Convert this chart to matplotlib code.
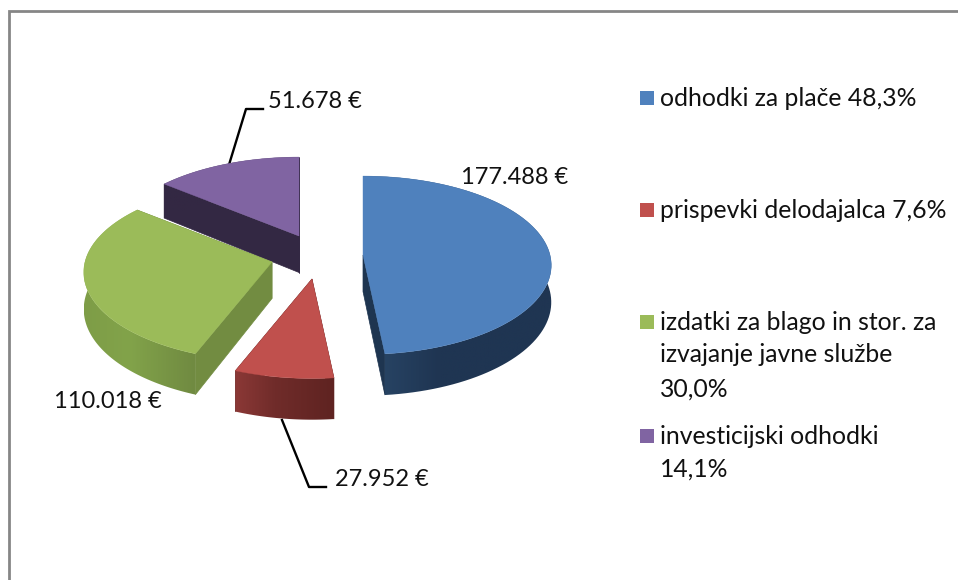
import numpy as np
import matplotlib
matplotlib.use("Agg")
import matplotlib.pyplot as plt
from matplotlib.patches import Polygon
from matplotlib.colors import LinearSegmentedColormap

plt.rcParams['font.family'] = ['Lato', 'DejaVu Sans']

# data
values = [177488, 27952, 110018, 51678]
value_labels = ["177.488 €", "27.952 €", "110.018 €", "51.678 €"]
legend_labels = [
    ["odhodki za plače 48,3%"],
    ["prispevki delodajalca 7,6%"],
    ["izdatki za blago in stor. za", "izvajanje javne službe", "30,0%"],
    ["investicijski odhodki", "14,1%"],
]
top_colors = ["#4f81bd", "#c0504d", "#9bbb59", "#8064a2"]
# wall gradient, left / middle / right on screen
wall_colors = [
    ["#2a4869", "#1f3552", "#1f3552"],
    ["#8b3836", "#702c2a", "#5f2321"],
    ["#7e9d47", "#82a34a", "#708a41"],
    ["#332843", "#332843", "#332843"],
]
cut_colors = ["#1e3550", "#602422", "#728c41", "#332843"]

# layout in pixels
apex = [(363, 255), (312, 279), (272, 262), (299, 236)]
rx, ry, persp, depth = 187, 88, 0.115, 36.5
legend_y = [[99], [211], [323, 355, 389], [437, 469]]
value_xy = [(461, 178), (335, 479), (54, 402), (268, 101)]


def project(theta, cx, cy):
    # theta runs clockwise from the top of the pie
    ground_y = -np.cos(theta)
    s = 1 / (1 - persp * ground_y)
    return cx + rx * np.sin(theta) * s, cy + ry * ground_y * s, depth * s


def draw_slice(ax, start, end, cx, cy, top, walls, cut):
    theta = np.linspace(start, end, 90)
    x, y, d = project(theta, cx, cy)

    # cut faces first, the top covers whatever is hidden
    for i in [0, -1]:
        ax.fill([cx, x[i], x[i], cx], [cy, y[i], y[i] + d[i], cy + depth],
                color=cut, lw=0.5, zorder=1)

    # outer wall: horizontal gradient clipped to the wall outline
    outline = np.c_[np.r_[x, x[::-1]], np.r_[y, (y + d)[::-1]]]
    patch = Polygon(outline, closed=True, transform=ax.transData, fc="none", ec="none")
    ax.add_patch(patch)
    cmap = LinearSegmentedColormap.from_list("wall", list(zip([0, 0.4, 1], walls)))
    grad = np.linspace(0, 1, 64).reshape(1, -1)
    im = ax.imshow(grad, cmap=cmap, aspect="auto", zorder=1,
                   extent=[x.min(), x.max(), (y + d).max(), y.min()])
    im.set_clip_path(patch)

    ax.fill(np.r_[cx, x], np.r_[cy, y], color=top, lw=0.3, zorder=2)


fig = plt.figure(figsize=(9.58, 5.8), dpi=100)
ax = fig.add_axes([0, 0, 1, 1])

# frame, only top and left are in the picture
ax.plot([9, 9, 958], [580, 11, 11], color="#868686", lw=2, solid_joinstyle="miter")

# leader lines go under the slices
ax.plot([228, 246, 263], [168, 109, 109], color="black", lw=1.7, zorder=0.5)
ax.plot([282, 309, 326], [420, 487, 487], color="black", lw=1.7, zorder=0.5)

edges = np.r_[0, np.cumsum(values)] / np.sum(values) * 2 * np.pi
# back to front
for i in [3, 2, 0, 1]:
    draw_slice(ax, edges[i], edges[i + 1], apex[i][0], apex[i][1],
               top_colors[i], wall_colors[i], cut_colors[i])

for label, (x, y) in zip(value_labels, value_xy):
    ax.text(x, y, label, fontsize=17, color="#111111", va="center", ha="left", zorder=3)

for color, lines, ys in zip(top_colors, legend_labels, legend_y):
    ax.fill([640, 654, 654, 640], [ys[0] - 8, ys[0] - 8, ys[0] + 6, ys[0] + 6], color=color, lw=0)
    for line, y in zip(lines, ys):
        ax.text(660, y, line, fontsize=17.8, color="#111111", va="center", ha="left")

# imshow resets the limits, so set them last
ax.set_xlim(0, 958)
ax.set_ylim(580, 0)
ax.axis("off")

fig.savefig("out.png", dpi=100)
